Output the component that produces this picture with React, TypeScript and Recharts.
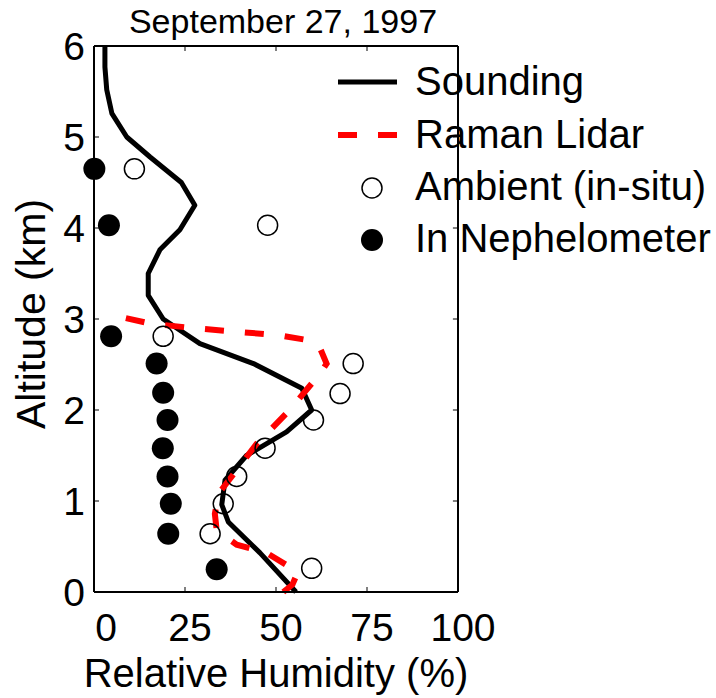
import React from "react"
import {
  ComposedChart,
  Line,
  Scatter,
  XAxis,
  YAxis,
  Legend,
  ReferenceLine,
} from "recharts"

// ── Data (relative humidity %, altitude km) ───────────────────────────────────
const soundingRH = [55.5, 45.6, 36.9, 35.1, 36, 41.9, 52.9, 59.8, 57.1, 43.8, 29.1, 19, 14.9, 14.9, 18.1, 23.6, 27.7, 24, 15.4, 9, 4.9, 3.5, 3, 3]
const soundingAlt = [0, 0.43, 0.77, 0.96, 1.23, 1.5, 1.76, 2.0, 2.24, 2.51, 2.73, 3.0, 3.26, 3.5, 3.76, 3.98, 4.25, 4.5, 4.78, 5.0, 5.26, 5.52, 5.77, 6.0]

const lidarRH = [52, 54.5, 56, 47.4, 39.2, 33.7, 33.2, 34.2, 39.2, 44.7, 53.8, 57.5, 62.1, 63.9, 62.1, 58.4, 51.1, 39.2, 27.3, 15.4, 7.6]
const lidarAlt = [0.0, 0.08, 0.22, 0.43, 0.52, 0.68, 0.86, 1.08, 1.34, 1.63, 2.0, 2.18, 2.4, 2.51, 2.68, 2.77, 2.82, 2.86, 2.9, 2.95, 3.02]

const ambientRH = [59.8, 31.9, 35.5, 39.2, 47.0, 60.3, 67.6, 71.2, 19.0, 47.7, 11.1]
const ambientAlt = [0.26, 0.64, 0.97, 1.27, 1.58, 1.89, 2.18, 2.51, 2.81, 4.03, 4.65]

const nephRH = [33.7, 20.4, 21.1, 20.2, 18.9, 20.2, 19.0, 17.2, 4.7, 4.1, 0.1]
const nephAlt = [0.25, 0.64, 0.97, 1.27, 1.58, 1.89, 2.19, 2.51, 2.81, 4.03, 4.65]

const xTicks = [0, 25, 50, 75, 100]
const yTicks = [0, 1, 2, 3, 4, 5, 6]

const zip = (rh: number[], alt: number[]) => rh.map((v, i) => ({ rh: v, alt: alt[i] }))

const sounding = zip(soundingRH, soundingAlt)
const lidar = zip(lidarRH, lidarAlt)
const ambient = zip(ambientRH, ambientAlt)
const neph = zip(nephRH, nephAlt)

const FONT = "'Liberation Sans', Arial, Helvetica, sans-serif"
const tickStyle = { fill: "#000", fontSize: 39, fontFamily: FONT }
const axisStroke = { stroke: "#000", strokeWidth: 2 }

// matlab puts the x labels a touch right of the tick marks
function XTick(p: any) {
  const dx = p.payload.value === 0 ? 12 : 5
  return (
    <text x={p.x + dx} y={p.y} dy="0.71em" textAnchor="middle" {...tickStyle}>
      {p.payload.value}
    </text>
  )
}

// ── Legend ────────────────────────────────────────────────────────────────────
function ProfileLegend() {
  const rows = [27, 80, 133, 185]
  const txt = { fontSize: 40, fontFamily: FONT, fill: "#000" }
  return (
    <svg width={386} height={220} style={{ overflow: "visible" }}>
      <line x1={8} x2={67} y1={rows[0]} y2={rows[0]} stroke="#000" strokeWidth={5} />
      <text x={85} y={rows[0] + 13} {...txt}>Sounding</text>
      <line x1={8} x2={67} y1={rows[1]} y2={rows[1]} stroke="#f00" strokeWidth={6} strokeDasharray="19 21" />
      <text x={85} y={rows[1] + 13} {...txt}>Raman Lidar</text>
      <circle cx={42} cy={rows[2]} r={10} fill="none" stroke="#000" strokeWidth={1.5} />
      <text x={85} y={rows[2] + 12} {...txt}>Ambient (in-situ)</text>
      <circle cx={42} cy={rows[3]} r={11} fill="#000" />
      <text x={85} y={rows[3] + 12} {...txt}>In Nephelometer</text>
    </svg>
  )
}

const OpenDot = (p: any) => (
  <circle cx={p.cx} cy={p.cy} r={10} fill="none" stroke="#000" strokeWidth={1.5} />
)
const FilledDot = (p: any) => <circle cx={p.cx} cy={p.cy} r={11} fill="#000" />

export default function App() {
  return (
    <div style={{ position: "absolute", left: 0, top: 0, width: 716, height: 698, background: "#fff" }}>
      <ComposedChart width={716} height={698} margin={{ top: 46, right: 258, bottom: 0, left: 0 }}>
        <XAxis
          type="number"
          dataKey="rh"
          domain={[0, 100]}
          ticks={xTicks}
          height={106}
          tickSize={-5}
          tickMargin={26}
          tick={<XTick />}
          axisLine={axisStroke}
          tickLine={{ stroke: "#000", strokeWidth: 1 }}
          label={{
            content: () => (
              <text x={276} y={687} textAnchor="middle" fontSize={40} fontFamily={FONT} fill="#000">
                Relative Humidity (%)
              </text>
            ),
          }}
        />
        <YAxis
          type="number"
          dataKey="alt"
          domain={[0, 6]}
          ticks={yTicks}
          width={94}
          tickSize={-5}
          tickMargin={14}
          tick={tickStyle}
          axisLine={axisStroke}
          tickLine={{ stroke: "#000", strokeWidth: 1 }}
          label={{
            content: () => (
              <text
                x={45}
                y={314}
                transform="rotate(-90 45 314)"
                textAnchor="middle"
                fontSize={41}
                fontFamily={FONT}
                fill="#000"
              >
                Altitude (km)
              </text>
            ),
          }}
        />

        {/* box: top and right edges */}
        <ReferenceLine
          y={6}
          stroke="#000"
          strokeWidth={2}
          label={{
            content: () => (
              <text x={283} y={33} textAnchor="middle" fontSize={34} fontFamily={FONT} fill="#000">
                September 27, 1997
              </text>
            ),
          }}
        />
        <ReferenceLine x={100} stroke="#000" strokeWidth={2} />
        {xTicks.slice(1, -1).map((t) => (
          <ReferenceLine key={"tx" + t} segment={[{ x: t, y: 6 }, { x: t, y: 5.945 }]} stroke="#000" strokeWidth={1} />
        ))}
        {yTicks.slice(1, -1).map((t) => (
          <ReferenceLine key={"ty" + t} segment={[{ x: 100, y: t }, { x: 98.6, y: t }]} stroke="#000" strokeWidth={1} />
        ))}

        <Legend
          layout="vertical"
          align="center"
          verticalAlign="middle"
          wrapperStyle={{ left: 330, top: 55, width: 386 }}
          content={() => <ProfileLegend />}
        />
        <Scatter name="Ambient (in-situ)" data={ambient} shape={OpenDot} isAnimationActive={false} />
        <Scatter name="In Nephelometer" data={neph} shape={FilledDot} isAnimationActive={false} />
        <Line
          name="Sounding"
          data={sounding}
          dataKey="alt"
          type="linear"
          stroke="#000"
          strokeWidth={5}
          strokeLinejoin="round"
          dot={false}
          isAnimationActive={false}
        />
        <Line
          name="Raman Lidar"
          data={lidar}
          dataKey="alt"
          type="linear"
          stroke="#f00"
          strokeWidth={6}
          strokeDasharray="19 21"
          dot={false}
          isAnimationActive={false}
        />
      </ComposedChart>
    </div>
  )
}
